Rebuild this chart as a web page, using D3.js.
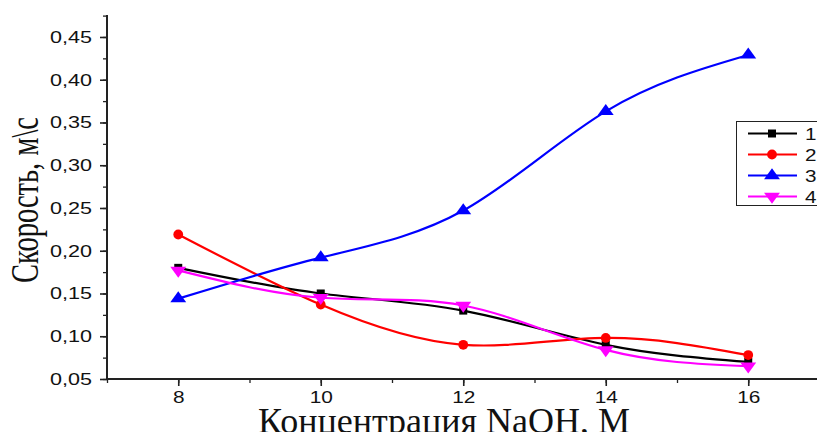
<!DOCTYPE html>
<html><head><meta charset="utf-8">
<script src="https://cdn.jsdelivr.net/npm/d3@7"></script>
<style>body{margin:0;background:#fff}svg{display:block}</style>
</head><body>
<svg id="c" width="817" height="432"></svg>
<script>
const xValues = [8, 10, 12, 14, 16];
const series1 = [0.180, 0.150, 0.130, 0.090, 0.070];
const series2 = [0.219, 0.137, 0.090, 0.098, 0.078];
const series3 = [0.144, 0.192, 0.247, 0.363, 0.429];
const series4 = [0.177, 0.145, 0.136, 0.084, 0.065];
const seriesNames = ["1", "2", "3", "4"];
const seriesColors = ["#000000", "#ff0000", "#0000ff", "#ff00ff"];
const seriesSymbols = ["square", "circle", "triangleUp", "triangleDown"];
const xTicks = [8, 10, 12, 14, 16];
const yTicks = [0.05, 0.10, 0.15, 0.20, 0.25, 0.30, 0.35, 0.40, 0.45];
const xLabel = "Концентрация NaOH, M";
const yLabel = "Скорость, м\\с";

const allSeries = [series1, series2, series3, series4];
const svg = d3.select("#c");
const x = d3.scaleLinear().domain([7, 17]).range([107, 819.5]);
const y = d3.scaleLinear().domain([0.05, 0.475]).range([379, 15.6]);

const axisColor = "#222";
// X axis
const gx = svg.append("g").attr("transform", "translate(0,379)");
gx.call(d3.axisBottom(x).tickValues(d3.range(7, 17.01, 1)).tickSize(4).tickFormat(""));
gx.call(g => g.selectAll(".tick line").attr("stroke", axisColor).attr("stroke-width", 1.3));
const gx2 = svg.append("g").attr("transform", "translate(0,379)");
gx2.call(d3.axisBottom(x).tickValues(xTicks).tickSize(7).tickPadding(5).tickFormat(d => String(d)));
gx2.select(".domain").remove();
gx.select(".domain").attr("stroke", axisColor).attr("stroke-width", 2).attr("d", "M107,0H817");
gx2.selectAll(".tick line").attr("stroke", axisColor).attr("stroke-width", 1.6);
gx2.selectAll(".tick text").attr("font-family", "Liberation Sans, Arial, sans-serif")
  .attr("font-size", 16.5).attr("fill", "#111").attr("dy", "0.71em")
  .attr("textLength", d => String(d).length * 11.6).attr("lengthAdjust", "spacingAndGlyphs");

// Y axis
const gy = svg.append("g").attr("transform", "translate(107,0)");
gy.call(d3.axisLeft(y).tickValues(d3.range(0, 18).map(i => 0.05 + i * 0.025)).tickSize(4).tickFormat(""));
gy.selectAll(".tick line").attr("stroke", axisColor).attr("stroke-width", 1.3);
gy.select(".domain").attr("stroke", axisColor).attr("stroke-width", 2).attr("d", "M0,15V379");
const gy2 = svg.append("g").attr("transform", "translate(107,0)");
gy2.call(d3.axisLeft(y).tickValues(yTicks).tickSize(7).tickPadding(8)
  .tickFormat(d => d3.format(".2f")(d).replace(".", ",")));
gy2.select(".domain").remove();
gy2.selectAll(".tick line").attr("stroke", axisColor).attr("stroke-width", 1.6);
gy2.selectAll(".tick text").attr("font-family", "Liberation Sans, Arial, sans-serif")
  .attr("font-size", 17).attr("fill", "#111")
  .attr("textLength", 42).attr("lengthAdjust", "spacingAndGlyphs");

// Lines
const line = d3.line().x(d => x(d[0])).y(d => y(d[1])).curve(d3.curveNatural);
const symType = {square: d3.symbolSquare, circle: d3.symbolCircle, triangleUp: d3.symbolTriangle, triangleDown: d3.symbolTriangle};
function drawMarker(g, type, cx, cy, color) {
  const size = type === "circle" ? 75 : (type === "square" ? 64 : 70);
  const p = g.append("path").attr("d", d3.symbol().type(symType[type]).size(size)())
    .attr("fill", color);
  let tr = `translate(${cx},${cy})`;
  if (type === "triangleDown") tr += " rotate(180)";
  if (type === "triangleUp" || type === "triangleDown") tr += " scale(1.25,1)";
  p.attr("transform", tr);
}
allSeries.forEach((s, i) => {
  const pts = xValues.map((xv, j) => [xv, s[j]]);
  svg.append("path").attr("d", line(pts)).attr("fill", "none")
    .attr("stroke", seriesColors[i]).attr("stroke-width", 2.2);
});
allSeries.forEach((s, i) => {
  const g = svg.append("g");
  xValues.forEach((xv, j) => drawMarker(g, seriesSymbols[i], x(xv), y(s[j]), seriesColors[i]));
});

// Legend
const lg = svg.append("g");
lg.append("rect").attr("x", 736.5).attr("y", 121.5).attr("width", 90).attr("height", 84)
  .attr("fill", "#fff").attr("stroke", "#222").attr("stroke-width", 1);
seriesNames.forEach((n, i) => {
  const ly = 133.5 + i * 21;
  lg.append("line").attr("x1", 748).attr("x2", 797).attr("y1", ly).attr("y2", ly)
    .attr("stroke", seriesColors[i]).attr("stroke-width", 2.2);
  drawMarker(lg, seriesSymbols[i], 772, ly, seriesColors[i]);
  lg.append("text").attr("x", 805).attr("y", ly).attr("dy", "0.36em")
    .attr("font-family", "Liberation Sans, Arial, sans-serif").attr("font-size", 17)
    .attr("fill", "#111").attr("textLength", 11.5).attr("lengthAdjust", "spacingAndGlyphs").text(n);
});

// Axis titles
svg.append("text").attr("x", 444).attr("y", 433)
  .attr("text-anchor", "middle").attr("font-family", "Liberation Serif, Times New Roman, serif")
  .attr("font-size", 35).attr("fill", "#111")
  .attr("textLength", 372).attr("lengthAdjust", "spacingAndGlyphs").text(xLabel);
svg.append("text").attr("transform", "translate(38,200) rotate(-90)")
  .attr("text-anchor", "middle").attr("font-family", "Liberation Serif, Times New Roman, serif")
  .attr("font-size", 40).attr("fill", "#111")
  .attr("textLength", 166).attr("lengthAdjust", "spacingAndGlyphs").text(yLabel);
</script>
</body></html>
